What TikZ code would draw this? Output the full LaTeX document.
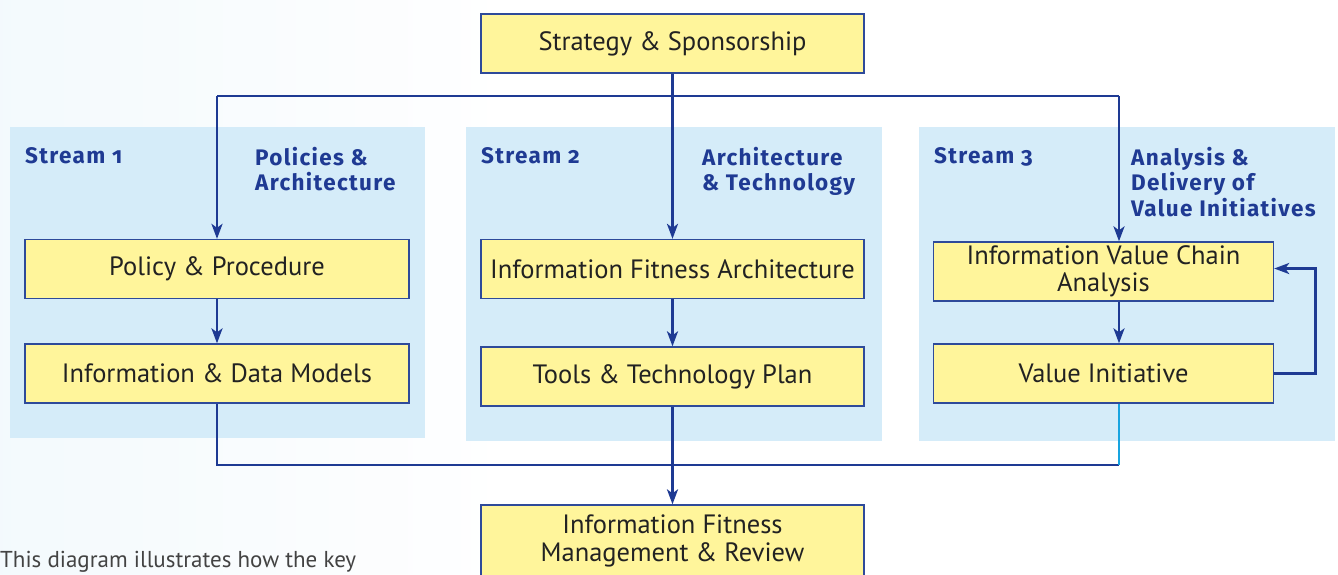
\documentclass[tikz,border=0pt]{standalone}
\usepackage{fontspec}
\setmainfont{PT Sans}
\newfontfamily\lblfont[Numbers=OldStyle,LetterSpace=6]{Fira Sans}
\usetikzlibrary{arrows.meta,calc}
\definecolor{panel}{HTML}{D5ECF9}
\definecolor{boxfill}{HTML}{FFF59B}
\definecolor{boxline}{HTML}{2E4A9A}
\definecolor{conncol}{HTML}{1E3A93}
\definecolor{lblcol}{HTML}{1F3A93}
\definecolor{cyanline}{HTML}{18A4E0}
\definecolor{txt}{HTML}{222222}
\begin{document}
\begin{tikzpicture}[x=1pt,y=-1pt,
  panelbox/.style={fill=panel,draw=none},
  stepbox/.style={draw=boxline,line width=1.3pt,fill=boxfill,inner sep=0pt,
    minimum height=59pt,text=txt,font=\fontsize{26.5}{27}\selectfont,align=center},
  lbl/.style={font=\lblfont\bfseries\fontsize{22.5}{25.5}\selectfont,text=lblcol,align=left,anchor=north west,inner sep=0pt},
  conn/.style={draw=conncol,line width=2.8pt},
  arr/.style={conn,-{Stealth[length=15pt,width=11pt,inset=4pt]}}]
\useasboundingbox (0,0) rectangle (1338,574);
\clip (0,0) rectangle (1338,574);
\fill[white] (0,0) rectangle (1338,574);
\shade[left color=panel!45,right color=white,opacity=0.6] (0,0) rectangle (500,574);
% panels
\fill[panelbox] (10,127) rectangle (425,438);
\fill[panelbox] (466,127) rectangle (882,441);
\fill[panelbox] (919,127) rectangle (1335,441);
% labels
\node[lbl] (s1) at (25,147) {Stream 1};
\node[lbl] (s1t) at (255,147) {Policies \&\\Architecture};
\node[lbl] (s2) at (481,147) {Stream 2};
\node[lbl] (s2t) at (702,147) {Architecture\\\& Technology};
\node[lbl] (s3) at (934,147) {Stream 3};
\node[lbl] (s3t) at (1131,147) {Analysis \&\\Delivery of\\Value Initiatives};
% boxes
\node[stepbox,minimum width=383pt] (strat) at (672.5,43.5) {Strategy \& Sponsorship};
\node[stepbox,minimum width=384pt] (pol) at (217,269) {Policy \& Procedure};
\node[stepbox,minimum width=384pt] (idm) at (217,373.5) {Information \& Data Models};
\node[stepbox,minimum width=383pt] (ifa) at (672.5,269) {Information Fitness Architecture};
\node[stepbox,minimum width=383pt] (tools) at (672.5,376.5) {Tools \& Technology Plan};
\node[stepbox,minimum width=340pt] (ivca) at (1103.5,271.5) {Information Value Chain\\Analysis};
\node[stepbox,minimum width=340pt] (vi) at (1103.5,373.5) {Value Initiative};
\node[stepbox,minimum width=383pt,minimum height=80pt] (ifm) at (672.5,545) {};
\node[text=txt,font=\fontsize{26.5}{28}\selectfont,align=center,inner sep=0pt] (ifmt) at (672.5,541) {Information Fitness\\Management \& Review};
% coordinates
\coordinate (top) at (672.5,96);
\coordinate (c3) at (1119,96);
\coordinate (bot) at (672.5,465);
% connectors
\draw[arr] (strat.south) -- (ifa.north);
\draw[conn] (pol.north |- top) -- (c3);
\draw[arr] (pol.north |- top) -- (pol.north);
\draw[arr] (c3) -- (c3 |- ivca.north);
\draw[arr] (pol.south) -- (idm.north);
\draw[arr] (ifa.south) -- (tools.north);
\draw[arr] (c3 |- ivca.south) -- (c3 |- vi.north);
\draw[arr] (vi.east) -- ++(41,0) |- ($(ivca.east)+(0,-3)$);
\draw[conn] (idm.south) -- (idm.south |- bot) -- (c3 |- bot);
\draw[draw=cyanline,line width=2.8pt] (c3 |- vi.south) -- (c3 |- bot);
\draw[arr] (tools.south) -- (ifm.north);
% caption
\node[anchor=base west,inner sep=0pt,text=txt!85,font=\fontsize{23}{26}\selectfont] (cap) at (0,567) {This diagram illustrates how the key};
\end{tikzpicture}
\end{document}
